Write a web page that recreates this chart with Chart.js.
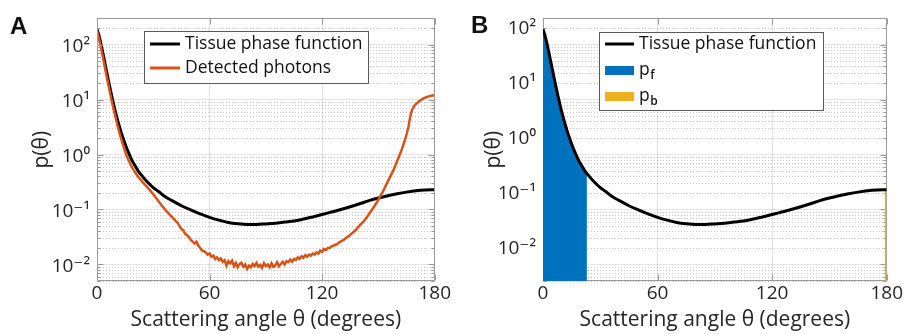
<!DOCTYPE html>
<html>
<head>
<meta charset="utf-8">
<script src="https://cdn.jsdelivr.net/npm/chart.js@4.4.1/dist/chart.umd.min.js"></script>
<style>
  html, body { margin: 0; padding: 0; background: #fff; }
  body { width: 904px; height: 334px; position: relative; overflow: hidden; }
  .panel { position: absolute; top: 0; width: 452px; height: 334px; }
  .plabel { position: absolute; font: bold 24px "Liberation Sans", Arial, sans-serif; line-height: 1; color: #111; }
</style>
</head>
<body>
<div class="panel" style="left:0"><canvas id="chartA"></canvas></div>
<div class="panel" style="left:452px"><canvas id="chartB"></canvas></div>
<div class="plabel" style="left:10px;top:14px">A</div>
<div class="plabel" style="left:471px;top:13px">B</div>
<script>
// ---------------- data ----------------
const thetaTissue = [0,1,2,3,4,5,6,7,8,9,10,11,12,13,14,15,16,17,18,19,20,22,24,26,28,30,33,36,40,45,50,55,60,65,70,75,80,85,90,95,100,105,110,115,120,125,130,135,140,145,150,155,160,165,170,175,180];
const tissuePhase = [190,148,107,74,50,34,23,15.8,11.0,7.8,5.6,4.2,3.2,2.45,1.95,1.55,1.26,1.05,0.87,0.74,0.65,0.50,0.41,0.34,0.29,0.25,0.21,0.174,0.145,0.117,0.098,0.083,0.072,0.064,0.058,0.055,0.0535,0.0535,0.0546,0.056,0.059,0.062,0.067,0.073,0.081,0.090,0.100,0.112,0.127,0.145,0.162,0.178,0.193,0.207,0.219,0.226,0.229];

const thetaDetected = [0,1,2,3,4,5,6,7,8,9,10,11,12,13,14,15,16,17,18,19,20,22,25,28,31,34,37,40,43,
  44,45,46,47,48,49,50,51,52,53,54,55,56,57,58,59,60,61,62,63,64,65,66,67,68,69,70,71,72,73,74,75,76,77,78,79,80,
  81,82,83,84,85,86,87,88,89,90,91,92,93,94,95,96,97,98,99,100,101,102,103,104,105,106,107,108,109,110,
  111,112,113,114,115,116,117,118,119,120,121,122,123,124,125,126,127,128,129,130,131,132,133,134,135,136,137,138,139,140,
  142,144,146,148,150,152,154,156,158,160,162,164,165,166,167,168,169,170,172,174,176,178,180];
const detectedPhotons = [178,132,93,63,42,28,19,12.9,8.9,6.3,4.6,3.3,2.45,1.86,1.45,1.12,0.91,0.76,0.65,0.56,0.49,0.39,0.295,0.23,0.170,0.125,0.093,0.073,0.057,
  0.050,0.044,0.042,0.036,0.034,0.0316,0.028,0.026,0.024,0.026,0.022,0.020,0.018,0.0174,0.0166,0.0151,0.0158,0.0138,0.0145,0.0126,0.0135,0.0120,0.0129,0.0112,0.0120,0.0095,0.0115,0.0105,0.0117,0.0093,0.0107,0.0089,0.0102,0.0107,0.0091,0.0100,0.0083,
  0.0095,0.0089,0.0102,0.0093,0.0107,0.0091,0.0098,0.0087,0.0105,0.0093,0.0100,0.0089,0.0105,0.0091,0.0095,0.0110,0.0093,0.0102,0.0112,0.0100,0.0115,0.0110,0.0123,0.0112,0.0126,0.0120,0.0135,0.0126,0.0141,0.0132,
  0.0148,0.0138,0.0151,0.0145,0.0158,0.0151,0.0166,0.0158,0.0178,0.0170,0.0191,0.0182,0.0200,0.0200,0.0214,0.0219,0.0229,0.0234,0.0251,0.0263,0.0275,0.0288,0.0309,0.0324,0.0347,0.0372,0.0398,0.0427,0.0468,0.0513,
  0.060,0.074,0.093,0.117,0.151,0.20,0.275,0.38,0.52,0.76,1.12,1.78,2.34,3.16,5.0,6.6,7.6,8.3,9.5,10.5,11.2,11.7,12.0];

// forward (p_f) region and backward (p_b) region of panel B
const pfTheta = [0,1,2,3,4,5,6,7,8,9,10,11,12,13,14,15,16,17,18,19,20,22,23];
const pfValue = [190,148,107,74,50,34,23,15.8,11.0,7.8,5.6,4.2,3.2,2.45,1.95,1.55,1.26,1.05,0.87,0.74,0.65,0.50,0.455];
const pbTheta = [178.9,180];
const pbValue = [0.229,0.229];

const xTickValues = [0,60,120,180];
const yDecades = [0.01,0.1,1,10,100];
const yTickLabels = ['10\u207B\u00B2','10\u207B\u00B9','10\u2070','10\u00B9','10\u00B2'];
const xTitle = 'Scattering angle \u03B8 (degrees)';
const yTitle = 'p(\u03B8)';
const yMin = 0.005, yMax = 300;

// ---------------- styling ----------------
const FONT = '"Open Sans", "DejaVu Sans", sans-serif';
const TXT = '#262626';
const C_BLACK = '#000000', C_ORANGE = '#D95319', C_BLUE = '#0072BD', C_YELLOW = '#EDB120';

const pts = (xs, ys) => xs.map((x, i) => ({x: x, y: ys[i]}));

const minorVals = [];
for (let k = -3; k <= 2; k++) for (let m = 2; m <= 9; m++) {
  const v = m * Math.pow(10, k);
  if (v >= yMin && v <= yMax) minorVals.push(v);
}

function makeDecor(boxOnTop) {
  const drawBox = (chart) => {
    const {ctx, chartArea: a} = chart;
    const y = chart.scales.y, x = chart.scales.x;
    ctx.save();
    ctx.strokeStyle = '#9a9a9a';
    ctx.lineWidth = 1;
    ctx.beginPath();
    const L = Math.round(a.left) + 0.5, R = Math.round(a.right) - 0.5, T = Math.round(a.top) + 0.5, B = Math.round(a.bottom) - 0.5;
    ctx.rect(L, T, R - L, B - T);
    const tick = (v, len) => {
      const py = Math.round(y.getPixelForValue(v)) + 0.5;
      ctx.moveTo(L, py); ctx.lineTo(L + len, py);
      ctx.moveTo(R, py); ctx.lineTo(R - len, py);
    };
    yDecades.forEach(v => tick(v, 6));
    minorVals.forEach(v => tick(v, 3));
    xTickValues.forEach(v => {
      const px = Math.round(x.getPixelForValue(v)) + 0.5;
      ctx.moveTo(px, B); ctx.lineTo(px, B - 6);
      ctx.moveTo(px, T); ctx.lineTo(px, T + 6);
    });
    ctx.stroke();
    ctx.restore();
  };
  return {
    id: 'decor',
    beforeDatasetsDraw(chart) {
      const {ctx, chartArea: a} = chart;
      const y = chart.scales.y;
      ctx.save();
      ctx.strokeStyle = 'rgba(0,0,0,0.22)';
      ctx.lineWidth = 1;
      ctx.setLineDash([1, 2]);
      for (const v of minorVals) {
        const py = Math.round(y.getPixelForValue(v)) + 0.5;
        ctx.beginPath(); ctx.moveTo(a.left, py); ctx.lineTo(a.right, py); ctx.stroke();
      }
      ctx.restore();
      if (!boxOnTop) drawBox(chart);
    },
    afterDatasetsDraw(chart) {
      if (boxOnTop) drawBox(chart);
    }
  };
}

function makeLegend(cfg) {
  return {
    id: 'insetLegend',
    afterDraw(chart) {
      const ctx = chart.ctx;
      ctx.save();
      ctx.fillStyle = '#fff';
      ctx.fillRect(cfg.x1, cfg.y1, cfg.x2 - cfg.x1, cfg.y2 - cfg.y1);
      ctx.strokeStyle = '#5a5a5a';
      ctx.lineWidth = 1;
      ctx.strokeRect(cfg.x1 + 0.5, cfg.y1 + 0.5, cfg.x2 - cfg.x1 - 1, cfg.y2 - cfg.y1 - 1);
      cfg.items.forEach((it, i) => {
        const yy = cfg.rows[i];
        if (it.type === 'line') {
          ctx.strokeStyle = it.color; ctx.lineWidth = 3;
          ctx.beginPath(); ctx.moveTo(cfg.sx1, yy); ctx.lineTo(cfg.sx2, yy); ctx.stroke();
        } else {
          ctx.fillStyle = it.color;
          ctx.fillRect(cfg.sx1, yy - 4, cfg.sx2 - cfg.sx1, 9);
        }
        ctx.fillStyle = '#111';
        ctx.textBaseline = 'middle';
        ctx.textAlign = 'left';
        ctx.font = '17.5px ' + FONT;
        ctx.fillText(it.text, cfg.tx, yy);
        if (it.sub) {
          const w = ctx.measureText(it.text).width;
          ctx.font = '600 12px ' + FONT;
          ctx.fillText(it.sub, cfg.tx + w + 0.5, yy + 6);
        }
      });
      ctx.restore();
    }
  };
}

function buildScales(labelShift, yAxisWidth) {
  const f = Math.pow(10, labelShift);
  return {
    x: {
      type: 'linear', position: 'bottom', min: 0, max: 180,
      afterBuildTicks: s => { s.ticks = xTickValues.map(v => ({value: v})); },
      ticks: { color: TXT, font: {family: FONT, size: 19}, padding: 1, maxRotation: 0 },
      grid: { color: 'rgba(0,0,0,0.12)', lineWidth: 1, drawTicks: false },
      border: { display: false },
      title: { display: true, text: xTitle, color: TXT, font: {family: FONT, size: 21}, padding: {top: 0, bottom: 1} },
      afterFit: s => { s.height = 53; }
    },
    y: {
      type: 'logarithmic', position: 'left', min: yMin, max: yMax,
      afterBuildTicks: s => { s.ticks = yDecades.map(v => ({value: v, major: true})); },
      ticks: { display: false },
      grid: { color: 'rgba(0,0,0,0.10)', lineWidth: 1, drawTicks: false },
      border: { display: false },
      afterFit: s => { s.width = 0; }
    },
    yl: {
      type: 'logarithmic', position: 'left', min: yMin / f, max: yMax / f,
      afterBuildTicks: s => { s.ticks = yDecades.map(v => ({value: v, major: true})); },
      ticks: { autoSkip: false, color: TXT, font: {family: FONT, size: 19}, padding: 7,
               callback: (v) => { const i = yDecades.findIndex(d => Math.abs(d - v) / d < 1e-6); return i >= 0 ? yTickLabels[i] : ''; } },
      grid: { display: false, drawTicks: false },
      border: { display: false },
      title: { display: true, text: yTitle, color: TXT, font: {family: FONT, size: 21}, padding: {top: 29, bottom: 0} },
      afterFit: s => { s.width = yAxisWidth; }
    }
  };
}

Chart.defaults.font.family = FONT;

new Chart(document.getElementById('chartA'), {
  type: 'line',
  data: {
    datasets: [
      { label: 'Tissue phase function', data: pts(thetaTissue, tissuePhase), borderColor: C_BLACK, borderWidth: 3,
        pointRadius: 0, cubicInterpolationMode: 'monotone', fill: false, order: 2, yAxisID: 'y' },
      { label: 'Detected photons', data: pts(thetaDetected, detectedPhotons), borderColor: C_ORANGE, borderWidth: 2.5,
        pointRadius: 0, tension: 0, fill: false, order: 1, yAxisID: 'y' }
    ]
  },
  options: {
    responsive: true, maintainAspectRatio: false, animation: false, devicePixelRatio: 1,
    layout: { padding: {top: 10, right: 12, bottom: 0, left: 0} },
    plugins: { legend: {display: false}, tooltip: {enabled: false} },
    scales: buildScales(-0.03, 97)
  },
  plugins: [makeDecor(true), makeLegend({
    x1: 144, y1: 31, x2: 369, y2: 84, sx1: 150, sx2: 180, tx: 185, rows: [44, 68],
    items: [ {type: 'line', color: C_BLACK, text: 'Tissue phase function'},
             {type: 'line', color: C_ORANGE, text: 'Detected photons'} ]
  })]
});

new Chart(document.getElementById('chartB'), {
  type: 'line',
  data: {
    datasets: [
      { label: 'Tissue phase function', data: pts(thetaTissue, tissuePhase), borderColor: C_BLACK, borderWidth: 3,
        pointRadius: 0, cubicInterpolationMode: 'monotone', fill: false, order: 0, yAxisID: 'y' },
      { label: 'p_f', data: pts(pfTheta, pfValue), borderColor: C_BLUE, borderWidth: 0, backgroundColor: C_BLUE,
        pointRadius: 0, cubicInterpolationMode: 'monotone', fill: 'start', order: 2, yAxisID: 'y' },
      { label: 'p_b', data: pts(pbTheta, pbValue), borderColor: C_YELLOW, borderWidth: 1.5, backgroundColor: C_YELLOW,
        pointRadius: 0, fill: 'start', order: 1, yAxisID: 'y' }
    ]
  },
  options: {
    responsive: true, maintainAspectRatio: false, animation: false, devicePixelRatio: 1,
    layout: { padding: {top: 10, right: 17, bottom: 0, left: 0} },
    plugins: { legend: {display: false}, tooltip: {enabled: false} },
    scales: buildScales(0.29, 91)
  },
  plugins: [makeDecor(false), makeLegend({
    x1: 147, y1: 32, x2: 372, y2: 111, sx1: 153, sx2: 182, tx: 187, rows: [44, 70, 96],
    items: [ {type: 'line', color: C_BLACK, text: 'Tissue phase function'},
             {type: 'rect', color: C_BLUE, text: 'p', sub: 'f'},
             {type: 'rect', color: C_YELLOW, text: 'p', sub: 'b'} ]
  })]
});
</script>
</body>
</html>
